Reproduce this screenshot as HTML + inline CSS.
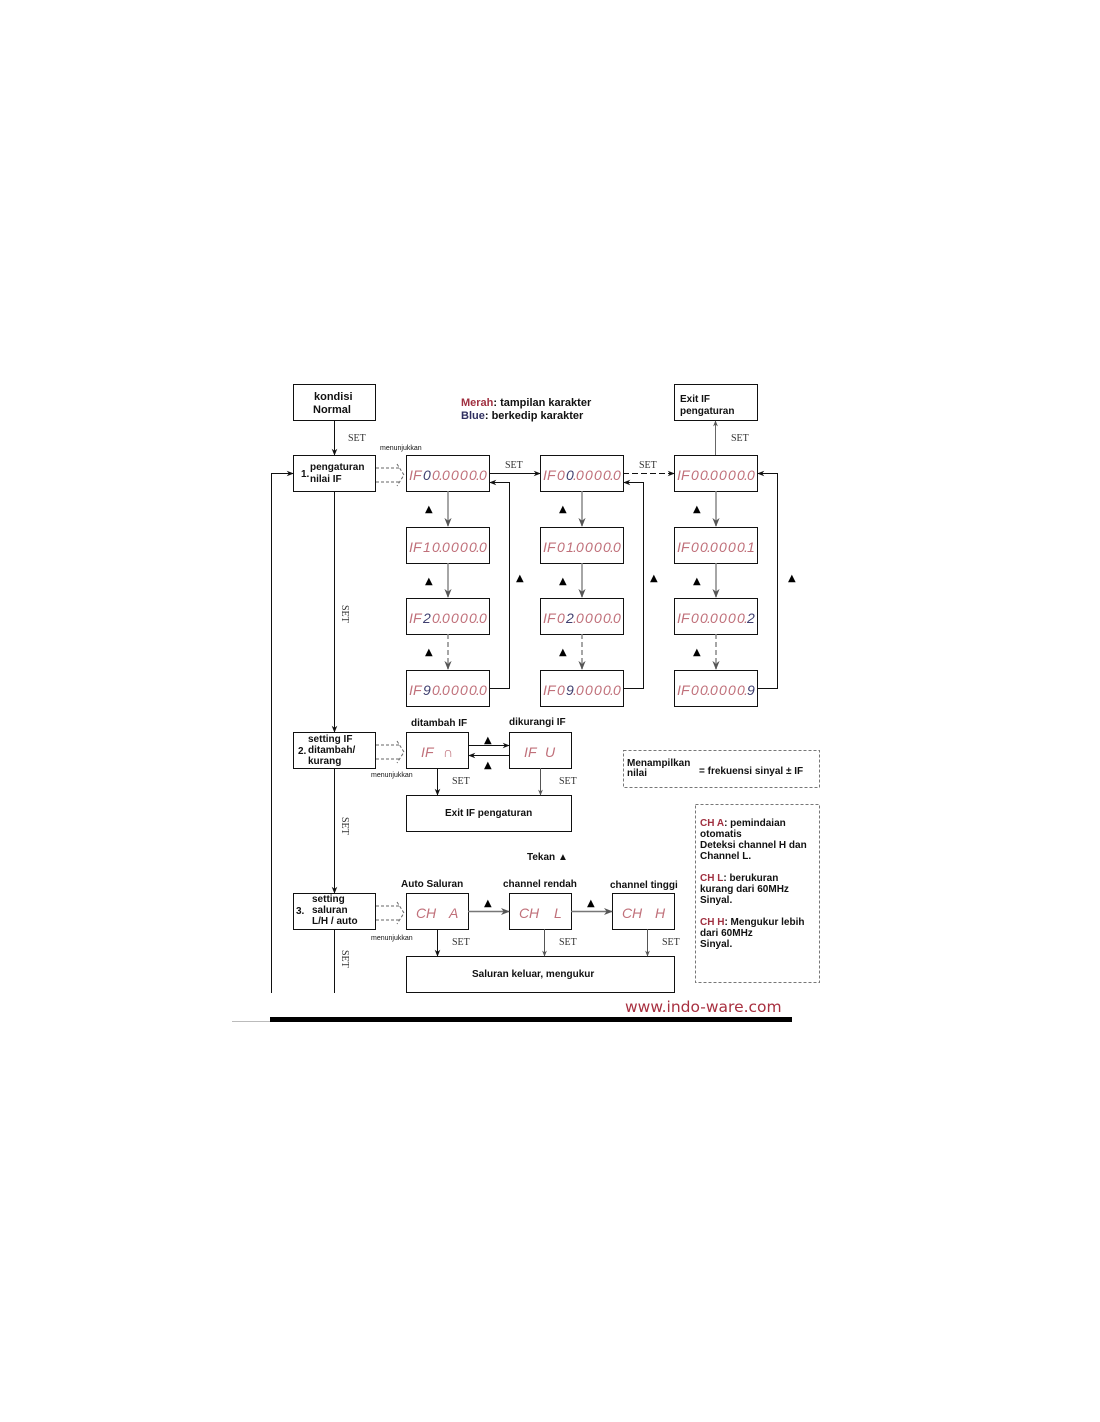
<!DOCTYPE html>
<html><head><meta charset="utf-8"><style>
html,body{margin:0;padding:0;background:#fff;}
svg{display:block}
.b{font-family:"Liberation Sans",sans-serif;font-weight:bold;font-size:10px;fill:#111}
.s{font-family:"Liberation Serif",serif;font-size:10px;fill:#333}
.d{font-family:"Liberation Sans",sans-serif;font-style:italic;font-size:14px;fill:#c0707a}
.bl{fill:#404070}
.r{fill:#a03040}
.sm{font-size:7px;font-weight:normal}
.lg{font-size:11px}
</style></head><body>
<svg width="1100" height="1422" viewBox="0 0 1100 1422" xmlns="http://www.w3.org/2000/svg">
<defs>
<marker id="a" viewBox="0 0 10 10" refX="9" refY="5" markerWidth="7" markerHeight="7" orient="auto"><path d="M0,1 L10,5 L0,9 L3,5z" fill="#111"/></marker>
<marker id="g" viewBox="0 0 10 10" refX="9" refY="5" markerWidth="6" markerHeight="6" orient="auto"><path d="M0,1 L10,5 L0,9 L3,5z" fill="#555"/></marker>
</defs>
<g fill="none" stroke="#111" stroke-width="1">
<rect x="293.5" y="384.5" width="82" height="36"/>
<rect x="293.5" y="455.5" width="82" height="36"/>
<rect x="674.5" y="384.5" width="83" height="36"/>
<rect x="406.5" y="455.5" width="83" height="36"/><rect x="540.5" y="455.5" width="83" height="36"/><rect x="674.5" y="455.5" width="83" height="36"/>
<rect x="406.5" y="527.5" width="83" height="36"/><rect x="540.5" y="527.5" width="83" height="36"/><rect x="674.5" y="527.5" width="83" height="36"/>
<rect x="406.5" y="598.5" width="83" height="36"/><rect x="540.5" y="598.5" width="83" height="36"/><rect x="674.5" y="598.5" width="83" height="36"/>
<rect x="406.5" y="670.5" width="83" height="36"/><rect x="540.5" y="670.5" width="83" height="36"/><rect x="674.5" y="670.5" width="83" height="36"/>
<rect x="293.5" y="732.5" width="82" height="36"/>
<rect x="406.5" y="732.5" width="62" height="36"/><rect x="509.5" y="732.5" width="62" height="36"/>
<rect x="406.5" y="795.5" width="165" height="36"/>
<rect x="293.5" y="893.5" width="82" height="36"/>
<rect x="406.5" y="893.5" width="62" height="36"/><rect x="509.5" y="893.5" width="62" height="36"/><rect x="612.5" y="893.5" width="62" height="36"/>
<rect x="406.5" y="956.5" width="268" height="36"/>
<rect x="623.5" y="750.5" width="196" height="37" stroke="#777" stroke-dasharray="3,2"/>
<rect x="695.5" y="804.5" width="124" height="178" stroke="#777" stroke-dasharray="3,2"/>
<line x1="334.5" y1="420" x2="334.5" y2="455" marker-end="url(#a)"/>
<line x1="334.5" y1="491" x2="334.5" y2="732" marker-end="url(#a)"/>
<line x1="334.5" y1="768" x2="334.5" y2="893" marker-end="url(#a)"/>
<line x1="334.5" y1="929" x2="334.5" y2="993"/>
<polyline points="271.5,993 271.5,473.5 293,473.5" marker-end="url(#a)"/>
<line x1="489" y1="473.5" x2="540" y2="473.5" marker-end="url(#a)"/>
<line x1="623" y1="473.5" x2="674" y2="473.5" stroke-dasharray="6,3" marker-end="url(#a)"/>
<line x1="715.5" y1="455" x2="715.5" y2="421" stroke="#666" marker-end="url(#g)"/>
<polyline points="489,688.5 509.5,688.5 509.5,482.5 490,482.5" marker-end="url(#a)"/>
<polyline points="623,688.5 643.5,688.5 643.5,482.5 624,482.5" marker-end="url(#a)"/>
<polyline points="757,688.5 777.5,688.5 777.5,473.5 758,473.5" marker-end="url(#a)"/>
<line x1="468" y1="745.5" x2="509" y2="745.5" marker-end="url(#a)"/>
<line x1="509" y1="755.5" x2="469" y2="755.5" marker-end="url(#a)"/>
<line x1="437.5" y1="768" x2="437.5" y2="795" marker-end="url(#a)"/>
<line x1="540.5" y1="768" x2="540.5" y2="795" stroke="#555" marker-end="url(#g)"/>
<line x1="437.5" y1="929" x2="437.5" y2="956" marker-end="url(#a)"/>
<line x1="544.5" y1="929" x2="544.5" y2="956" stroke="#555" marker-end="url(#g)"/>
<line x1="647.5" y1="929" x2="647.5" y2="956" stroke="#555" marker-end="url(#g)"/>
<line x1="468" y1="911.5" x2="509" y2="911.5" stroke="#777" stroke-width="1.5" marker-end="url(#g)"/>
<line x1="571" y1="911.5" x2="612" y2="911.5" stroke="#777" stroke-width="1.5" marker-end="url(#g)"/>
</g>
<g fill="none" stroke="#888" stroke-width="1.5">
<line x1="448" y1="491" x2="448" y2="526" marker-end="url(#g)"/><line x1="448" y1="563" x2="448" y2="597" marker-end="url(#g)"/><line x1="448" y1="634" x2="448" y2="669" stroke-dasharray="5,3" marker-end="url(#g)"/>
<line x1="582" y1="491" x2="582" y2="526" marker-end="url(#g)"/><line x1="582" y1="563" x2="582" y2="597" marker-end="url(#g)"/><line x1="582" y1="634" x2="582" y2="669" stroke-dasharray="5,3" marker-end="url(#g)"/>
<line x1="716" y1="491" x2="716" y2="526" marker-end="url(#g)"/><line x1="716" y1="563" x2="716" y2="597" marker-end="url(#g)"/><line x1="716" y1="634" x2="716" y2="669" stroke-dasharray="5,3" marker-end="url(#g)"/>
</g>
<g fill="none" stroke="#666" stroke-width="1" stroke-dasharray="3,2">
<path d="M376,468 H401 M376,482 H401 M397,464 L404,475 L397,486"/>
<path d="M376,745 H401 M376,759 H401 M397,741 L404,752 L397,763"/>
<path d="M376,906 H401 M376,920 H401 M397,902 L404,913 L397,924"/>
</g>
<g font-family="DejaVu Sans,sans-serif" font-size="10" fill="#000">
<text x="425" y="512">▲</text><text x="425" y="584">▲</text><text x="425" y="655">▲</text>
<text x="559" y="512">▲</text><text x="559" y="584">▲</text><text x="559" y="655">▲</text>
<text x="693" y="512">▲</text><text x="693" y="584">▲</text><text x="693" y="655">▲</text>
<text x="516" y="581">▲</text><text x="650" y="581">▲</text><text x="788" y="581">▲</text>
<text x="484" y="743">▲</text><text x="484" y="768">▲</text>
<text x="484" y="906">▲</text><text x="587" y="906">▲</text>
</g>
<text class="b lg" x="314" y="400">kondisi</text><text class="b lg" x="313" y="413">Normal</text>
<text class="b" x="301" y="477">1.</text><text class="b" x="310" y="470">pengaturan</text><text class="b" x="310" y="482">nilai IF</text>
<text class="b" x="680" y="402">Exit IF</text><text class="b" x="680" y="414">pengaturan</text>
<text class="b lg" x="461" y="406"><tspan class="r">Merah</tspan>: tampilan karakter</text>
<text class="b lg" x="461" y="419"><tspan fill="#303060">Blue</tspan>: berkedip karakter</text>
<text class="s" x="348" y="441">SET</text><text class="s" x="731" y="441">SET</text>
<text class="s" x="505" y="468">SET</text><text class="s" x="639" y="468">SET</text>
<text class="b sm" x="380" y="450">menunjukkan</text>
<text class="s" transform="translate(342,605) rotate(90)">SET</text>
<text class="s" transform="translate(342,817) rotate(90)">SET</text>
<text class="s" transform="translate(342,950) rotate(90)">SET</text>
<text class="b" x="308" y="742">setting IF</text><text class="b" x="298" y="754">2.</text><text class="b" x="308" y="753">ditambah/</text><text class="b" x="308" y="764">kurang</text>
<text class="b" x="411" y="726">ditambah IF</text><text class="b" x="509" y="725">dikurangi IF</text>
<text class="b sm" x="371" y="777">menunjukkan</text>
<text class="s" x="452" y="784">SET</text><text class="s" x="559" y="784">SET</text>
<text class="b" x="445" y="816">Exit IF pengaturan</text>
<text class="b" x="627" y="766">Menampilkan</text><text class="b" x="627" y="776">nilai</text>
<text class="b" x="699" y="774">=  frekuensi sinyal ± IF</text>
<text class="b" x="527" y="860">Tekan ▲</text>
<text class="b" x="401" y="887">Auto Saluran</text><text class="b" x="503" y="887">channel rendah</text><text class="b" x="610" y="888">channel tinggi</text>
<text class="b" x="312" y="902">setting</text><text class="b" x="296" y="914">3.</text><text class="b" x="312" y="913">saluran</text><text class="b" x="312" y="924">L/H / auto</text>
<text class="b sm" x="371" y="940">menunjukkan</text>
<text class="s" x="452" y="945">SET</text><text class="s" x="559" y="945">SET</text><text class="s" x="662" y="945">SET</text>
<text class="b" x="472" y="977">Saluran keluar, mengukur</text>
<g class="b"><text x="700" y="826"><tspan class="r">CH A</tspan>: pemindaian</text><text x="700" y="837">otomatis</text><text x="700" y="848">Deteksi channel H dan</text><text x="700" y="859">Channel L.</text>
<text x="700" y="881"><tspan class="r">CH L</tspan>: berukuran</text><text x="700" y="892">kurang dari 60MHz</text><text x="700" y="903">Sinyal.</text>
<text x="700" y="925"><tspan class="r">CH H</tspan>: Mengukur lebih</text><text x="700" y="936">dari 60MHz</text><text x="700" y="947">Sinyal.</text></g>
<g class="d">
<text x="409 413 423 432 439 442 451 460 469 476 479" y="480">IF<tspan class="bl">0</tspan>0.0000.0</text>
<text x="543 547 557 566 573 576 585 594 603 610 613" y="480">IF0<tspan class="bl">0</tspan>.0000.0</text>
<text x="677 681 691 700 707 710 719 728 737 744 747" y="480">IF00.0000.0</text>
<text x="409 413 423 432 439 442 451 460 469 476 479" y="552">IF10.0000.0</text>
<text x="543 547 557 566 573 576 585 594 603 610 613" y="552">IF01.0000.0</text>
<text x="677 681 691 700 707 710 719 728 737 744 747" y="552">IF00.0000.1</text>
<text x="409 413 423 432 439 442 451 460 469 476 479" y="623">IF<tspan class="bl">2</tspan>0.0000.0</text>
<text x="543 547 557 566 573 576 585 594 603 610 613" y="623">IF0<tspan class="bl">2</tspan>.0000.0</text>
<text x="677 681 691 700 707 710 719 728 737 744 747" y="623">IF00.0000.<tspan class="bl">2</tspan></text>
<text x="409 413 423 432 439 442 451 460 469 476 479" y="695">IF<tspan class="bl">9</tspan>0.0000.0</text>
<text x="543 547 557 566 573 576 585 594 603 610 613" y="695">IF0<tspan class="bl">9</tspan>.0000.0</text>
<text x="677 681 691 700 707 710 719 728 737 744 747" y="695">IF00.0000.<tspan class="bl">9</tspan></text>
<text x="421 425 443" y="757">IF∩</text><text x="524 528 545" y="757">IFU</text>
<text x="416 426 449" y="918">CHA</text><text x="519 529 554" y="918">CHL</text><text x="622 632 655" y="918">CHH</text>
</g>
<text x="625" y="1012" font-family="DejaVu Sans,sans-serif" font-size="15.5" fill="#a83040">www.indo-ware.com</text>
<rect x="270" y="1017" width="522" height="5" fill="#000"/>
<rect x="232" y="1021" width="38" height="1" fill="#bbb"/>
</svg>
</body></html>
